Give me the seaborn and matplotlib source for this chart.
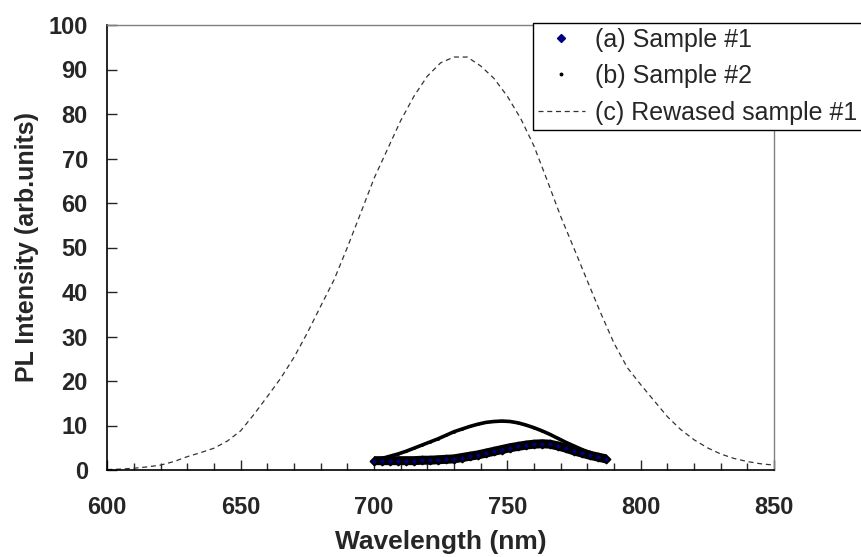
import numpy as np
import pandas as pd
import seaborn as sns
import matplotlib.pyplot as plt
from matplotlib.lines import Line2D
from matplotlib.ticker import MultipleLocator

# (c) rewased sample #1 - broad peak
wl_c = [600, 605, 610, 615, 620, 625, 630, 635, 640, 645, 650, 655, 660, 665, 670, 675, 680,
        685, 690, 695, 700, 705, 710, 715, 720, 725, 730, 735, 740, 745, 750, 755, 760, 765,
        770, 775, 780, 785, 790, 795, 800, 805, 810, 815, 820, 825, 830, 835, 840, 845, 850]
pl_c = [0.1, 0.2, 0.4, 0.7, 1.1, 1.9, 3.0, 3.9, 4.9, 6.5, 8.8, 12.5, 16.5, 20.6, 25.3, 30.8, 36.8,
        42.7, 50.0, 57.7, 65.5, 72.0, 78.5, 84.0, 88.5, 91.5, 92.8, 92.8, 90.8, 88.0, 84.0, 79.0, 72.8, 65.0,
        57.0, 49.8, 42.5, 35.3, 28.5, 23.0, 19.2, 15.6, 12.0, 9.1, 6.8, 5.0, 3.6, 2.6, 1.9, 1.4, 1.1]

# (a) sample #1 and (b) sample #2
wl_ab = [700, 703, 706, 709, 712, 715, 718, 721, 724, 727, 730, 733, 736, 739, 742,
         745, 748, 751, 754, 757, 760, 763, 766, 769, 772, 775, 778, 781, 784, 787]
pl_a = [2.1, 2.1, 2.1, 2.1, 2.1, 2.1, 2.2, 2.2, 2.3, 2.4, 2.5, 2.8, 3.1, 3.4, 3.8,
        4.2, 4.6, 5.0, 5.3, 5.6, 5.8, 5.9, 5.8, 5.4, 4.9, 4.3, 3.8, 3.3, 2.9, 2.5]
pl_b = [2.2, 2.6, 3.1, 3.6, 4.2, 4.9, 5.6, 6.3, 7.0, 7.8, 8.6, 9.2, 9.8, 10.3, 10.7,
        10.9, 11.0, 10.9, 10.6, 10.1, 9.5, 8.8, 8.0, 7.1, 6.2, 5.4, 4.6, 3.9, 3.3, 2.8]

labels = ["(a) Sample #1", "(b) Sample #2", "(c) Rewased sample #1"]

df_c = pd.DataFrame({"wl": wl_c, "pl": pl_c})
df_ab = pd.DataFrame({"wl": wl_ab, "a": pl_a, "b": pl_b})

sns.set_style("white")
plt.rcParams["font.family"] = ["Liberation Sans", "DejaVu Sans"]

fig = plt.figure(figsize=(8.61, 5.57), dpi=100)
ax = fig.add_axes([107.3 / 861, 1 - 470 / 557, (774 - 107.3) / 861, (470 - 25) / 557])

sns.lineplot(data=df_c, x="wl", y="pl", ax=ax, color="#333333", lw=0.9,
             linestyle=(0, (4, 3)), legend=False)
sns.lineplot(data=df_ab, x="wl", y="b", ax=ax, color="black", lw=2.6, legend=False)
sns.scatterplot(data=df_ab, x="wl", y="b", ax=ax, color="black", s=4, marker="o",
                linewidth=0, legend=False)
sns.lineplot(data=df_ab, x="wl", y="a", ax=ax, color="black", lw=6.5, legend=False,
             solid_capstyle="butt")
sns.scatterplot(data=df_ab, x="wl", y="a", ax=ax, color="#000080", s=16, marker="D",
                edgecolor="black", linewidth=1.4, legend=False, zorder=3)

ax.set_xlim(600, 850)
ax.set_ylim(0, 100)
ax.xaxis.set_major_locator(MultipleLocator(50))
ax.xaxis.set_minor_locator(MultipleLocator(10))
ax.yaxis.set_major_locator(MultipleLocator(10))

ax.tick_params(axis="x", which="major", direction="in", length=7, width=1, pad=19,
               bottom=True, top=False)
ax.tick_params(axis="x", which="minor", direction="in", length=5, width=1,
               bottom=True, top=False)
ax.tick_params(axis="y", which="major", direction="in", length=7, width=1, pad=14,
               left=True, right=False)
for lab in ax.get_xticklabels() + ax.get_yticklabels():
    lab.set_fontweight("bold")
    lab.set_fontsize(17)

ax.set_xlabel("Wavelength (nm)", fontsize=19, fontweight="bold", labelpad=8)
ax.set_ylabel("PL Intensity (arb.units)", fontsize=18, fontweight="bold", labelpad=7)

for side in ["left", "bottom"]:
    ax.spines[side].set_color("black")
    ax.spines[side].set_linewidth(1.2)
for side in ["top", "right"]:
    ax.spines[side].set_color("#808080")
    ax.spines[side].set_linewidth(1.0)

handles = [
    Line2D([], [], marker="D", color="#000080", ls="none", ms=4),
    Line2D([], [], marker="o", color="black", ls="none", ms=1.8),
    Line2D([], [], color="#333333", lw=0.9, linestyle=(0, (4, 3))),
]
leg = fig.legend(handles, labels, loc="upper left",
                 bbox_to_anchor=(532.7 / 861, 1 - 22.7 / 557),
                 prop={"family": ["Liberation Sans", "DejaVu Sans"], "size": 18},
                 frameon=True, fancybox=False, shadow=False, framealpha=1,
                 edgecolor="black", borderpad=0.2, labelspacing=0.5,
                 handlelength=1.9, handletextpad=0.4, borderaxespad=0)
leg.get_frame().set_linewidth(1.0)

fig.savefig("out.png", dpi=100)
